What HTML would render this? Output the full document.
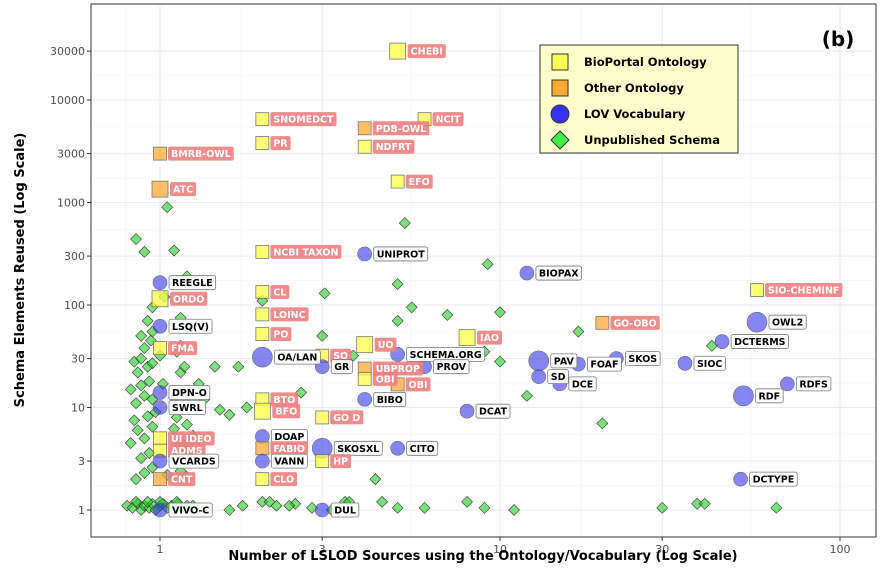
<!DOCTYPE html>
<html><head><meta charset="utf-8"><style>
body{margin:0;background:#fff;font-family:"Liberation Sans",sans-serif}
svg text{font-family:"DejaVu Sans","Liberation Sans",sans-serif}
</style></head><body>
<svg id="chart" width="882" height="577"></svg>
<script>
// ---- data ----
const labelNames = ["CHEBI","SNOMEDCT","NCIT","PDB-OWL","PR","NDFRT","BMRB-OWL","EFO","ATC","NCBI TAXON","UNIPROT","BIOPAX","SIO-CHEMINF","REEGLE","CL","ORDO","LOINC","GO-OBO","OWL2","LSQ(V)","PO","IAO","DCTERMS","UO","FMA","OA/LAN","SO","SCHEMA.ORG","PAV","SKOS","FOAF","SIOC","GR","PROV","UBPROP","SD","OBI","DCE","RDFS","OBI","DPN-O","RDF","BIBO","BTO","SWRL","BFO","DCAT","GO D","UI IDEO","DOAP","SKOSXL","FABIO","CITO","ADMS","VCARDS","VANN","HP","CNT","CLO","DCTYPE","DUL","VIVO-C"];
const labelSources = [5,2,6,4,2,4,1,5,1,2,4,12,57,1,2,1,2,20,57,1,2,8,45,4,1,2,3,5,13,22,17,35,3,6,4,13,4,15,70,5,1,52,4,2,1,2,8,3,1,2,3,2,5,1,1,2,3,1,2,51,3,1];
const labelElements = [30000,6500,6500,5300,3800,3500,3000,1600,1350,330,315,205,140,165,134,115,81,67,68,62,52,48,44,41,38,31,32,33,28.5,30,26.5,27,25,25,24,20,19,17,17,16.8,14,13,12,12,10,9.2,9.2,8,5,5.2,4,4,4,3.8,3,3,3,2,2,2,1,1];
// B=BioPortal, O=Other, L=LOV
const labelTypes = ["B","B","B","O","B","B","O","B","O","B","L","L","B","L","B","B","B","O","L","L","B","B","L","B","B","L","B","L","L","L","L","L","L","L","O","L","B","L","L","O","L","L","L","B","L","B","L","B","B","L","L","O","L","B","L","L","B","O","B","L","L","L"];
const labelBig = [1,0,0,0,0,0,0,0,1,0,0,0,0,0,0,1,0,0,1,0,0,1,0,1,0,1,0,0,1,0,0,0,0,0,0,0,0,0,0,0,0,1,0,0,0,1,0,0,0,0,1,0,0,0,0,0,0,0,0,0,0,0];
const unpubX = [0.8,0.83,0.86,0.88,0.9,0.93,0.95,0.97,1.0,1.02,1.05,1.08,1.1,1.13,1.16,1.2,1.25,0.85,0.92,1.0,1.12,1.22,
0.85,0.9,0.95,1.05,1.15,1.2,0.88,0.93,1.1,1.2,0.82,0.9,1.15,1.25,0.86,0.95,1.1,1.2,0.84,0.92,1.12,0.97,0.85,0.9,0.95,1.1,0.82,0.88,0.93,1.02,0.86,0.92,1.15,0.84,0.88,0.95,1.18,1.0,0.9,0.94,1.12,1.15,0.88,0.95,1.2,0.92,1.15,0.95,1.03,1.2,0.85,0.9,1.1,1.05,1.35,1.45,1.3,1.5,
5.25,9.2,5,3.05,2,5.5,7,10,5,17,3,9,10,6.5,12,20,42,3.7,3.5,2.6,1.7,1.6,1.8,2.2,1.6,4.3,
2,2.2,2.5,2.8,3.5,3.6,4.5,5,6,8,9,11,30,38,40,65,1.75,2.1,2.4,3.2];
const unpubY = [1.1,1.05,1.15,1.0,1.1,1.05,1.15,1.0,1.1,1.15,1.05,1.1,1.0,1.15,1.05,1.1,1.1,1.2,1.2,1.2,1.2,1.0,
2,2.3,2.6,2.2,2.4,2.1,3.2,3.6,3.3,3.8,4.5,5,4.6,5.3,6,6.5,6.2,6.8,7.5,8.2,8,9,11,13,12,12.5,15,16.5,18,17,22,25,22,28,30,27,25,32,38,45,35,40,50,55,60,70,75,95,120,190,440,330,340,900,12,25,17,9.5,
630,250,160,130,110,95,80,85,70,55,50,35,28,34,13,7,40,32,25,14,25,8.5,10,3,1,2,
1.2,1.1,1.15,1.05,1.2,1.2,1.2,1.05,1.05,1.2,1.05,1.0,1.05,1.15,1.15,1.05,1.1,1.2,1.1,1.0];
const xTicks = [1,3,10,30,100];
const yTicks = [1,3,10,30,100,300,1000,3000,10000,30000];

// ---- scales ----
const L=91,R=876,T=4,B=537;
const xs=v=>160+340*Math.log10(v);
const ys=v=>510-102.5*Math.log10(v);
const NS="http://www.w3.org/2000/svg";
const svg=document.getElementById('chart');
function mk(tag,attrs,parent){const e=document.createElementNS(NS,tag);for(const k in attrs)e.setAttribute(k,attrs[k]);(parent||svg).appendChild(e);return e;}

const bg=mk('rect',{x:L,y:T,width:R-L,height:B-T,fill:'#fff'});


const grid=mk('g',{});


for(let i=0;i<xTicks.length;i++){
  const x=xs(xTicks[i]);
  mk('line',{x1:x,x2:x,y1:T,y2:B,stroke:'#ebebeb','stroke-width':1},grid);
  if(i<xTicks.length-1){const m=(x+xs(xTicks[i+1]))/2;mk('line',{x1:m,x2:m,y1:T,y2:B,stroke:'#f4f4f4','stroke-width':0.6},grid);}
}
{const m=(L+xs(1))/2;mk('line',{x1:m,x2:m,y1:T,y2:B,stroke:'#f4f4f4','stroke-width':0.6},grid);}
for(let i=0;i<yTicks.length;i++){
  const y=ys(yTicks[i]);
  mk('line',{x1:L,x2:R,y1:y,y2:y,stroke:'#ebebeb','stroke-width':1},grid);
  if(i<yTicks.length-1){const m=(y+ys(yTicks[i+1]))/2;mk('line',{x1:L,x2:R,y1:m,y2:m,stroke:'#f4f4f4','stroke-width':0.6},grid);}
}
const xt=mk('g',{});


xTicks.forEach(v=>{const x=xs(v);mk('line',{x1:x,x2:x,y1:B,y2:B+4,stroke:'#333'},xt);
  const t=mk('text',{x:x,y:B+16,'text-anchor':'middle','font-size':11,fill:'#4d4d4d'},xt);t.textContent=v;});
const yt=mk('g',{});


yTicks.forEach(v=>{const y=ys(v);mk('line',{x1:L-4,x2:L,y1:y,y2:y,stroke:'#333'},yt);
  const t=mk('text',{x:L-6,y:y+4,'text-anchor':'end','font-size':11,fill:'#4d4d4d'},yt);t.textContent=v;});

const dg=mk('g',{});


for(let i=0;i<unpubX.length;i++){
  const x=xs(unpubX[i]),y=ys(unpubY[i]),s=5.5;
  const p=mk('polygon',{points:`${x},${y-s} ${x+s},${y} ${x},${y+s} ${x-s},${y}`,fill:'#22cc22','fill-opacity':0.6,stroke:'#333','stroke-width':0.6},dg);
  
  
}
const mg=mk('g',{});


const lg=mk('g',{});


for(let i=0;i<labelNames.length;i++){
  const x=xs(labelSources[i]),y=ys(labelElements[i]),t=labelTypes[i],big=labelBig[i];
  if(t==='L'){
    const r=big?10:7;
    const c=mk('circle',{cx:x,cy:y,r:r,fill:'#3333ee','fill-opacity':0.6,stroke:'#666','stroke-width':0.6},mg);
    
    
  }else{
    const s=big?16:13;
    const r=mk('rect',{x:x-s/2,y:y-s/2,width:s,height:s,fill:t==='B'?'#ffff44':'#ffaa33','fill-opacity':0.75,stroke:'#777','stroke-width':0.8},mg);
    
    
  }
  const off=(t==='L'?(big?11:8):(big?9:7))+1;
  const tx=mk('text',{x:x+off+3,y:y+3.5,'font-size':9.5,'font-weight':'bold',fill:t==='L'?'#000':'#fff'},lg);
  tx.textContent=labelNames[i];
  
  
  const w=tx.getComputedTextLength();
  const box=mk('rect',{x:x+off,y:y-7,width:w+6,height:14,rx:2,fill:t==='L'?'#fff':'#f08080','fill-opacity':0.9,stroke:t==='L'?'#777':'none','stroke-width':0.8},lg);
  lg.insertBefore(box,tx);
}
mk('rect',{x:L,y:T,width:R-L,height:B-T,fill:'none',stroke:'#333','stroke-width':1});
const xtl=mk('text',{x:483,y:560,'text-anchor':'middle','font-size':13,'font-weight':'bold',fill:'#000'});
xtl.textContent='Number of LSLOD Sources using the Ontology/Vocabulary (Log Scale)';


const ytl=mk('text',{x:24,y:270,'text-anchor':'middle','font-size':13,'font-weight':'bold',fill:'#000',transform:'rotate(-90 24 270)'});
ytl.textContent='Schema Elements Reused (Log Scale)';


const pl=mk('text',{x:838,y:46,'text-anchor':'middle','font-size':20,'font-weight':'bold',fill:'#000'});
pl.textContent='(b)';


const leg=mk('g',{});


mk('rect',{x:540,y:45,width:198,height:108,fill:'#ffffcc',stroke:'#333','stroke-width':1},leg);
const legNames=['BioPortal Ontology','Other Ontology','LOV Vocabulary','Unpublished Schema'];
legNames.forEach((n,i)=>{
  const cy=62+i*26,cx=560;
  if(i===0)mk('rect',{x:cx-8,y:cy-8,width:16,height:16,fill:'#ffff55',stroke:'#333'},leg);
  else if(i===1)mk('rect',{x:cx-8,y:cy-8,width:16,height:16,fill:'#ffaa33',stroke:'#333'},leg);
  else if(i===2)mk('circle',{cx:cx,cy:cy,r:9,fill:'#3333ee',stroke:'#333'},leg);
  else mk('polygon',{points:`${cx},${cy-9} ${cx+9},${cy} ${cx},${cy+9} ${cx-9},${cy}`,fill:'#44ee44',stroke:'#333'},leg);
  const t=mk('text',{x:584,y:cy+4,'font-size':11.5,'font-weight':'bold',fill:'#000'},leg);
  t.textContent=n;
  
  
});
</script>
</body></html>
